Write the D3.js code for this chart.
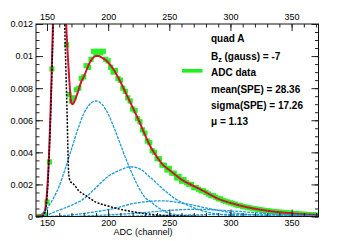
<!DOCTYPE html>
<html>
<head>
<meta charset="utf-8">
<script src="https://cdn.jsdelivr.net/npm/d3@7"></script>
<style>
  body { margin: 0; background: #fff; }
  svg { display: block; font-family: "Liberation Sans", Arial, sans-serif; }
  .tick text { font-size: 9px; fill: #000; }
  .legend text { font-size: 10px; font-weight: bold; fill: #000; }
</style>
</head>
<body>
<svg id="chart"></svg>
<script>
// x axis ticks (ADC channel) and y axis ticks
const xMajorTicks = [150, 200, 250, 300, 350];
const xMinorTicks = [150, 160, 170, 180, 190, 200, 210, 220, 230, 240, 250, 260, 270, 280, 290, 300, 310, 320, 330, 340, 350, 360, 370];
const yMajorTicks = [0, 0.002, 0.004, 0.006, 0.008, 0.01, 0.012];
const yTickLabels = ["0", "0.002", "0.004", "0.006", "0.008", "0.01", "0.012"];
const yMinorTicks = [0, 0.0005, 0.001, 0.0015, 0.002, 0.0025, 0.003, 0.0035, 0.004, 0.0045, 0.005, 0.0055, 0.006,
  0.0065, 0.007, 0.0075, 0.008, 0.0085, 0.009, 0.0095, 0.01, 0.0105, 0.011, 0.0115, 0.012];

// ADC data, [channel, normalised counts]
const adcData = [
  [142, 0], [144, 0], [146, 0], [148, 0.0001], [150, 0.0009], [152, 0.0034], [154, 0.0092], [156, 0.0175],
  [158, 0.03], [160, 0.034], [162, 0.026], [164, 0.016], [166, 0.0107], [168, 0.0076], [170, 0.0072],
  [172, 0.0074], [174, 0.0079], [176, 0.0080], [178, 0.0086], [180, 0.0087], [182, 0.0094], [184, 0.0093],
  [186, 0.0098], [188, 0.0103], [190, 0.0101], [192, 0.0103], [194, 0.0102], [196, 0.0103], [198, 0.0098],
  [200, 0.0097], [202, 0.0093], [204, 0.0090], [206, 0.0091], [208, 0.0086], [210, 0.0085], [212, 0.0080],
  [214, 0.0078], [216, 0.0074], [218, 0.0072], [220, 0.0067], [222, 0.0066], [224, 0.0061], [226, 0.0059],
  [228, 0.0054], [230, 0.0052], [232, 0.0047], [234, 0.0046], [236, 0.0041], [238, 0.0040], [240, 0.0036],
  [242, 0.0036], [244, 0.0032], [246, 0.0032], [248, 0.0029], [250, 0.0030], [252, 0.0027], [254, 0.0027],
  [256, 0.0024], [258, 0.0025], [260, 0.0022], [262, 0.0023], [264, 0.0021], [266, 0.0020], [268, 0.0020],
  [270, 0.0018], [272, 0.0018], [274, 0.0017], [276, 0.0016], [278, 0.0016], [280, 0.0015], [282, 0.0014],
  [284, 0.0013], [286, 0.0013], [288, 0.0012], [290, 0.0011], [292, 0.0011], [294, 0.0010], [296, 0.00095],
  [298, 0.0009], [300, 0.00085], [302, 0.0008], [304, 0.00077], [306, 0.0007], [308, 0.00068], [310, 0.00063],
  [312, 0.0006], [314, 0.00056], [316, 0.00054], [318, 0.0005], [320, 0.00048], [322, 0.00045], [324, 0.00043],
  [326, 0.0004], [328, 0.00038], [330, 0.00036], [332, 0.00034], [334, 0.00032], [336, 0.0003], [338, 0.00028],
  [340, 0.00027], [342, 0.00026], [344, 0.00024], [346, 0.00023], [348, 0.00021], [350, 0.0002], [352, 0.00019],
  [354, 0.00018], [356, 0.00016], [358, 0.00015], [360, 0.00014], [362, 0.00013], [364, 0.00012], [366, 0.00011],
  [368, 0.0001], [370, 0.0001]
];

// total fit (red)
const fitCurve = [
  [141, 0], [146, 0.0001], [148, 0.0003], [150, 0.0015], [151.5, 0.0036], [152.8, 0.0063], [154, 0.0095],
  [155, 0.0125], [156, 0.017], [158, 0.026], [160, 0.028], [162, 0.024], [164, 0.0165], [165.7, 0.012],
  [167.1, 0.0099], [168.4, 0.0083], [169.8, 0.0071], [171, 0.0070], [172, 0.0071], [175, 0.0077], [178, 0.0084],
  [180, 0.0087], [185, 0.0096], [190, 0.0100], [192, 0.0100], [195, 0.0099], [200, 0.0096], [205, 0.0091],
  [210, 0.0084], [215, 0.0076], [220, 0.0068], [225, 0.0060], [230, 0.0051], [235, 0.0043], [240, 0.0037],
  [245, 0.0032], [250, 0.0029], [260, 0.0023], [270, 0.0019], [280, 0.0015], [290, 0.0011], [300, 0.00085],
  [310, 0.00064], [320, 0.00048], [330, 0.00036], [340, 0.00027], [350, 0.0002], [360, 0.00014], [372, 0.0001]
];

// pedestal + background (black)
const pedestalCurve = [
  [146, 0], [148, 0.0002], [150, 0.0012], [151.5, 0.0033], [152.8, 0.006], [154, 0.009], [155, 0.012],
  [156, 0.017], [158, 0.025], [160, 0.027], [162, 0.022], [164, 0.0135], [165.5, 0.009], [166.5, 0.0062],
  [167.2, 0.0038], [167.8, 0.0026], [169, 0.0022], [172, 0.0020], [176, 0.0016], [181, 0.00134], [190, 0.0009],
  [200, 0.00065], [210, 0.00045], [220, 0.0003], [230, 0.00018], [240, 0.0001], [260, 0.00003], [280, 0]
];

// photoelectron peaks (blue)
const pe1Curve = [
  [145, 0.0001], [150, 0.0005], [155, 0.0011], [160, 0.0019], [165, 0.0030], [170, 0.0042], [175, 0.0054],
  [180, 0.0064], [185, 0.0070], [190, 0.0072], [195, 0.0070], [200, 0.0064], [205, 0.0055], [210, 0.0045],
  [215, 0.0035], [220, 0.0026], [225, 0.0018], [230, 0.0012], [235, 0.0009], [240, 0.0006], [250, 0.0002],
  [260, 0.00007], [280, 0]
];
const pe2Curve = [
  [145, 0], [150, 0.0001], [160, 0.0004], [170, 0.0007], [180, 0.0011], [190, 0.0018], [200, 0.0025],
  [210, 0.0029], [218, 0.0031], [225, 0.0030], [235, 0.0024], [245, 0.0017], [255, 0.0011], [265, 0.0007],
  [275, 0.0004], [290, 0.00015], [310, 0.00003], [330, 0]
];
const pe3Curve = [
  [150, 0], [170, 0.0001], [190, 0.0003], [205, 0.0005], [220, 0.0008], [235, 0.00095], [245, 0.00098],
  [255, 0.0009], [270, 0.0007], [285, 0.00045], [300, 0.00025], [320, 0.0001], [340, 0.00003], [370, 0]
];
const pe4Curve = [
  [170, 0], [200, 0.0001], [230, 0.00025], [250, 0.00038], [270, 0.00045], [290, 0.0004], [310, 0.0003],
  [330, 0.00018], [350, 0.0001], [372, 0.00004]
];
const pe5Curve = [
  [200, 0], [240, 0.00005], [270, 0.0001], [300, 0.00013], [330, 0.0001], [372, 0.00005]
];

const legendLines = ["quad A", "Bz", "ADC data", "mean(SPE) = 28.36", "sigma(SPE) = 17.26", "\u03bc = 1.13"];

const width = 354, height = 241;
const margin = { top: 24, right: 35.5, bottom: 24.5, left: 36 };
const plotW = width - margin.left - margin.right;
const plotH = height - margin.top - margin.bottom;

const svg = d3.select("#chart").attr("width", width).attr("height", height);

const x = d3.scaleLinear().domain([141, 372]).range([0, plotW]);
const y = d3.scaleLinear().domain([0, 0.012]).range([plotH, 0]);

const g = svg.append("g").attr("transform", `translate(${margin.left},${margin.top})`);

g.append("clipPath").attr("id", "clip")
  .append("rect").attr("width", plotW).attr("height", plotH);

const plot = g.append("g").attr("clip-path", "url(#clip)");

const line = d3.line()
  .x(d => x(d[0]))
  .y(d => y(d[1]))
  .curve(d3.curveMonotoneX);

// data markers
plot.selectAll("rect.pt")
  .data(adcData.filter(d => d[1] <= 0.0122))
  .enter().append("rect")
  .attr("class", "pt")
  .attr("x", d => x(d[0]) - 2.6)
  .attr("y", d => y(d[1]) - 2.6)
  .attr("width", 5.2)
  .attr("height", 5.2)
  .attr("fill", "#27f227");

// fit
plot.append("path").attr("d", line(fitCurve))
  .attr("fill", "none").attr("stroke", "#e8141b").attr("stroke-width", 2);

[pe1Curve, pe2Curve, pe3Curve, pe4Curve, pe5Curve].forEach(c => {
  plot.append("path").attr("d", line(c))
    .attr("fill", "none").attr("stroke", "#1f9bd4")
    .attr("stroke-width", 1.3).attr("stroke-dasharray", "3,1");
});

plot.append("path").attr("d", line(pedestalCurve))
  .attr("fill", "none").attr("stroke", "#000")
  .attr("stroke-width", 1.5).attr("stroke-dasharray", "2,1.5");

plot.append("path").attr("d", line(fitCurve))
  .attr("fill", "none").attr("stroke", "#2b2bd0")
  .attr("stroke-width", 1).attr("stroke-dasharray", "1,3");

// axes
function styleAxis(sel) {
  sel.select(".domain").remove();
  sel.selectAll(".tick line").attr("stroke", "#222");
}

g.append("g").attr("transform", `translate(0,${plotH})`)
  .call(d3.axisBottom(x).tickValues(xMinorTicks).tickSize(-3.5).tickFormat(""))
  .call(styleAxis);
g.append("g").attr("transform", `translate(0,${plotH})`)
  .call(d3.axisBottom(x).tickValues(xMajorTicks).tickSize(-7).tickPadding(3).tickFormat(d3.format("d")))
  .call(styleAxis);
g.append("g")
  .call(d3.axisTop(x).tickValues(xMinorTicks).tickSize(-3.5).tickFormat(""))
  .call(styleAxis);
g.append("g")
  .call(d3.axisTop(x).tickValues(xMajorTicks).tickSize(-7).tickPadding(4).tickFormat(d3.format("d")))
  .call(styleAxis);

g.append("g")
  .call(d3.axisLeft(y).tickValues(yMinorTicks).tickSize(-3.5).tickFormat(""))
  .call(styleAxis);
g.append("g")
  .call(d3.axisLeft(y).tickValues(yMajorTicks).tickSize(-7).tickPadding(3).tickFormat((d, i) => yTickLabels[i]))
  .call(styleAxis);
g.append("g").attr("transform", `translate(${plotW},0)`)
  .call(d3.axisRight(y).tickValues(yMinorTicks).tickSize(-3.5).tickFormat(""))
  .call(styleAxis);
g.append("g").attr("transform", `translate(${plotW},0)`)
  .call(d3.axisRight(y).tickValues(yMajorTicks).tickSize(-7).tickFormat(""))
  .call(styleAxis);

g.selectAll(".tick text").style("font-size", "9px").style("font-family", "\"Liberation Sans\", Arial, sans-serif");

g.append("rect")
  .attr("width", plotW).attr("height", plotH)
  .attr("fill", "none").attr("stroke", "#111").attr("stroke-width", 1);

svg.append("text")
  .attr("x", margin.left + x(228.5)).attr("y", 235)
  .attr("text-anchor", "middle")
  .style("font-size", "9px")
  .text("ADC (channel)");

// legend
const legend = svg.append("g").attr("class", "legend");
const legendX = 211;
const legendY = [41.5, 59.5, 75.5, 92.5, 109, 125];

legendLines.forEach((t, i) => {
  const txt = legend.append("text").attr("x", legendX).attr("y", legendY[i]);
  if (t === "Bz") {
    txt.append("tspan").text("B");
    txt.append("tspan").attr("dy", 2).style("font-size", "7px").text("z");
    txt.append("tspan").attr("dy", -2).text(" (gauss) = -7");
  } else {
    txt.text(t);
  }
});

legend.append("rect")
  .attr("x", 182).attr("y", 69).attr("width", 20.5).attr("height", 3.6)
  .attr("fill", "#1bf21b");
</script>
</body>
</html>
